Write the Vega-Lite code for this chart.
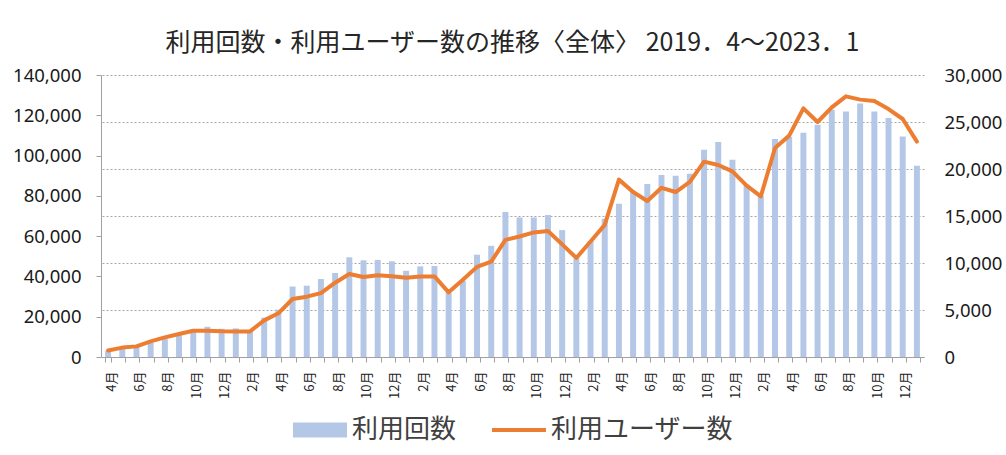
{
  "$schema": "https://vega.github.io/schema/vega-lite/v6.json",
  "width": 823,
  "height": 282,
  "autosize": {"type": "none"},
  "padding": {"left": 101, "top": 75, "right": 82, "bottom": 98},
  "background": "white",
  "title": {
    "text": "利用回数・利用ユーザー数の推移〈全体〉 2019．4〜2023．1",
    "fontSize": 25,
    "font": "Noto Sans CJK JP",
    "fontWeight": "normal",
    "color": "#262626",
    "anchor": "middle",
    "offset": 10
  },
  "data": {
    "values": [
      {"ym": "2019-04", "count": 3000, "users": 700},
      {"ym": "2019-05", "count": 4000, "users": 1000},
      {"ym": "2019-06", "count": 5000, "users": 1130},
      {"ym": "2019-07", "count": 7000, "users": 1670},
      {"ym": "2019-08", "count": 8900, "users": 2090},
      {"ym": "2019-09", "count": 11100, "users": 2450},
      {"ym": "2019-10", "count": 13600, "users": 2800},
      {"ym": "2019-11", "count": 15000, "users": 2800},
      {"ym": "2019-12", "count": 14000, "users": 2730},
      {"ym": "2020-01", "count": 14200, "users": 2700},
      {"ym": "2020-02", "count": 13000, "users": 2720},
      {"ym": "2020-03", "count": 19500, "users": 3900},
      {"ym": "2020-04", "count": 23500, "users": 4650},
      {"ym": "2020-05", "count": 35000, "users": 6170},
      {"ym": "2020-06", "count": 35400, "users": 6420},
      {"ym": "2020-07", "count": 38700, "users": 6800},
      {"ym": "2020-08", "count": 41700, "users": 7900},
      {"ym": "2020-09", "count": 49500, "users": 8830},
      {"ym": "2020-10", "count": 48000, "users": 8510},
      {"ym": "2020-11", "count": 48200, "users": 8690},
      {"ym": "2020-12", "count": 47500, "users": 8580},
      {"ym": "2021-01", "count": 42800, "users": 8420},
      {"ym": "2021-02", "count": 45000, "users": 8570},
      {"ym": "2021-03", "count": 45200, "users": 8570},
      {"ym": "2021-04", "count": 32000, "users": 6880},
      {"ym": "2021-05", "count": 37800, "users": 8210},
      {"ym": "2021-06", "count": 50800, "users": 9590},
      {"ym": "2021-07", "count": 55200, "users": 10140},
      {"ym": "2021-08", "count": 72000, "users": 12460},
      {"ym": "2021-09", "count": 69300, "users": 12820},
      {"ym": "2021-10", "count": 69200, "users": 13250},
      {"ym": "2021-11", "count": 70500, "users": 13400},
      {"ym": "2021-12", "count": 63000, "users": 11980},
      {"ym": "2022-01", "count": 49000, "users": 10540},
      {"ym": "2022-02", "count": 57500, "users": 12290},
      {"ym": "2022-03", "count": 68600, "users": 14060},
      {"ym": "2022-04", "count": 76100, "users": 18870},
      {"ym": "2022-05", "count": 82200, "users": 17550},
      {"ym": "2022-06", "count": 85900, "users": 16600},
      {"ym": "2022-07", "count": 90300, "users": 18000},
      {"ym": "2022-08", "count": 90000, "users": 17550},
      {"ym": "2022-09", "count": 91000, "users": 18620},
      {"ym": "2022-10", "count": 102900, "users": 20780},
      {"ym": "2022-11", "count": 106700, "users": 20430},
      {"ym": "2022-12", "count": 97900, "users": 19750},
      {"ym": "2023-01", "count": 85500, "users": 18230},
      {"ym": "2023-02", "count": 80000, "users": 17090},
      {"ym": "2023-03", "count": 108200, "users": 22230},
      {"ym": "2023-04", "count": 109300, "users": 23550},
      {"ym": "2023-05", "count": 111300, "users": 26450},
      {"ym": "2023-06", "count": 115300, "users": 25000},
      {"ym": "2023-07", "count": 122700, "users": 26560},
      {"ym": "2023-08", "count": 121900, "users": 27730},
      {"ym": "2023-09", "count": 125900, "users": 27380},
      {"ym": "2023-10", "count": 121900, "users": 27230},
      {"ym": "2023-11", "count": 118600, "users": 26380},
      {"ym": "2023-12", "count": 109500, "users": 25320},
      {"ym": "2024-01", "count": 95000, "users": 22910}
    ]
  },
  "encoding": {
    "x": {
      "field": "ym",
      "type": "ordinal",
      "scale": {"paddingInner": 0.58, "paddingOuter": 0.29},
      "axis": {
        "title": null,
        "labelAngle": -90,
        "labelAlign": "right",
        "labelBaseline": "middle",
        "labelPadding": 9,
        "labelOffset": 3,
        "labelFont": "Noto Sans CJK JP",
        "labelFontSize": 13,
        "labelColor": "#222222",
        "labelOverlap": false,
        "tickSize": 5,
        "tickBand": "extent",
        "tickColor": "#A0A0A0",
        "domainColor": "#A0A0A0",
        "grid": false,
        "labelExpr": "isString(datum.value) && toNumber(slice(datum.value, 5)) % 2 == 0 ? toNumber(slice(datum.value, 5)) + '月' : ''"
      }
    }
  },
  "layer": [
    {
      "mark": {"type": "bar"},
      "encoding": {
        "y": {
          "field": "count",
          "type": "quantitative",
          "scale": {"domain": [0, 140000], "nice": false},
          "axis": {
            "title": null,
            "orient": "left",
            "values": [0, 20000, 40000, 60000, 80000, 100000, 120000, 140000],
            "format": ",d",
            "grid": false,
            "labelFont": "Noto Sans",
            "labelFontSize": 18.5,
            "labelColor": "#1a1a1a",
            "labelPadding": 15,
            "tickSize": 5,
            "tickColor": "#A0A0A0",
            "domainColor": "#A0A0A0"
          }
        },
        "color": {
          "datum": "利用回数",
          "scale": {"domain": ["利用回数", "利用ユーザー数"], "range": ["#B4C7E7", "#ED7D31"]},
          "legend": {
            "title": null,
            "orient": "none",
            "legendX": 192,
            "legendY": 328,
            "direction": "horizontal",
            "labelFont": "Noto Sans CJK JP",
            "labelFontSize": 26,
            "labelColor": "#404040",
            "labelLimit": 400,
            "symbolSize": 2916,
            "labelOffset": 5,
            "columnPadding": 35,
            "encode": {
              "symbols": {
                "update": {
                  "shape": {"signal": "datum.value === '利用回数' ? 'M-1,-0.278H1V0.278H-1Z' : 'M-1,-0.074H1V0.074H-1Z'"},
                  "fill": {"signal": "datum.value === '利用回数' ? '#B4C7E7' : '#ED7D31'"},
                  "stroke": {"value": "transparent"},
                  "strokeWidth": {"value": 0},
                  "opacity": {"value": 1},
                  "fillOpacity": {"value": 1}
                }
              }
            }
          }
        }
      }
    },
    {
      "mark": {"type": "line", "strokeWidth": 4, "strokeJoin": "round", "strokeCap": "round"},
      "encoding": {
        "y": {
          "field": "users",
          "type": "quantitative",
          "scale": {"domain": [0, 30000], "nice": false},
          "axis": {
            "title": null,
            "orient": "right",
            "values": [0, 5000, 10000, 15000, 20000, 25000, 30000],
            "format": ",d",
            "grid": true,
            "gridDash": [2, 2],
            "gridColor": "#A6A6A6",
            "gridWidth": 1,
            "domain": false,
            "ticks": false,
            "labelFont": "Noto Sans",
            "labelFontSize": 18.5,
            "labelColor": "#1a1a1a",
            "labelPadding": 20
          }
        },
        "color": {"datum": "利用ユーザー数"}
      }
    }
  ],
  "resolve": {"scale": {"y": "independent"}},
  "config": {
    "view": {"stroke": null},
    "axis": {"zindex": 0}
  }
}
